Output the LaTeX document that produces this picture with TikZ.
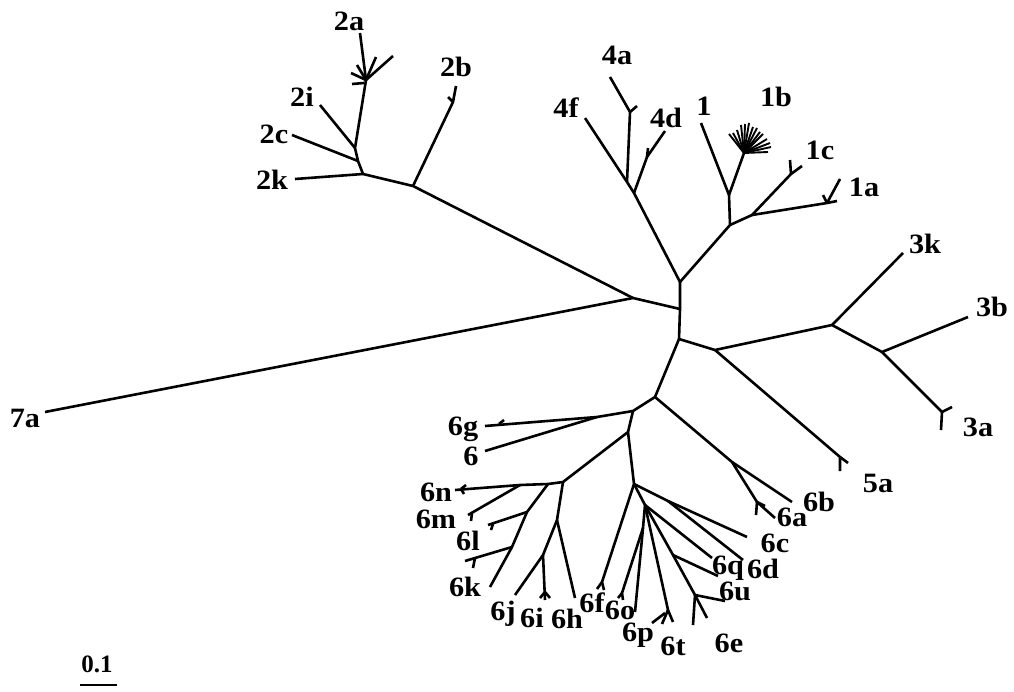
\documentclass[tikz,border=0pt]{standalone}
\usepackage{fontspec}
\setmainfont{Liberation Serif}
\newcommand{\lbl}[1]{\scalebox{1.08}[1]{#1}}
\begin{document}
\begin{tikzpicture}[x=1pt,y=-1pt,
  br/.style={line width=2.6pt, line join=round},
  fan/.style={line width=1.9pt},
  lab/.style={font=\bfseries\fontsize{28}{28}\selectfont, inner sep=0pt}]
\useasboundingbox (0,0) rectangle (1014,691);
% ---------- centre ----------
\coordinate (n1) at (680,282);
\coordinate (n2) at (680,309);
\coordinate (n3) at (679,339);
\coordinate (b7) at (633,298);
\coordinate (t7a) at (45,412);
% ---------- clade 2 ----------
\coordinate (c2b) at (413,186);
\coordinate (f2b) at (453,102);
\coordinate (t2b) at (456,86);
\coordinate (s2b) at (448,97);
\coordinate (c2c) at (363,174);
\coordinate (t2k) at (295,179);
\coordinate (c2d) at (358,161);
\coordinate (t2c) at (292,135);
\coordinate (c2e) at (355,148);
\coordinate (t2i) at (320,105);
\coordinate (c2f) at (366,80);
\coordinate (t2a) at (360,33);
\coordinate (s2a1) at (376,57);
\coordinate (s2a2) at (393,56);
\coordinate (s2a3) at (357,65);
\coordinate (s2a4) at (351,73);
\coordinate (g2a) at (364,83);
\coordinate (s2a5) at (352,84);
% ---------- clade 4 ----------
\coordinate (c4g) at (634,193);
\coordinate (c4h) at (627,182);
\coordinate (t4f) at (585,118);
\coordinate (f4a) at (630,112);
\coordinate (t4a) at (610,77);
\coordinate (s4a) at (637,106);
\coordinate (f4d) at (647,157);
\coordinate (t4d) at (665,131);
\coordinate (s4d) at (648,148);
% ---------- clade 1 ----------
\coordinate (c1i) at (730,225);
\coordinate (c1j) at (729,195);
\coordinate (t1) at (701,123);
\coordinate (f1b) at (744,153);
\coordinate (fb1) at (729,134);
\coordinate (fb2) at (733,133);
\coordinate (fb3) at (737,130);
\coordinate (fb4) at (741,125);
\coordinate (fb5) at (745,124);
\coordinate (fb6) at (749,123);
\coordinate (fb7) at (753,127);
\coordinate (fb8) at (757,128);
\coordinate (fb9) at (760,132);
\coordinate (fb10) at (763,134);
\coordinate (fb11) at (767,139);
\coordinate (fb12) at (770,143);
\coordinate (fb13) at (771,147);
\coordinate (fb14) at (768,152);
\coordinate (c1k) at (752,215);
\coordinate (f1c) at (791,174);
\coordinate (t1c) at (802,166);
\coordinate (s1c) at (790,160);
\coordinate (f1a) at (827,203);
\coordinate (t1a) at (837,201);
\coordinate (u1a) at (840,179);
\coordinate (s1a) at (823,195);
% ---------- clade 3 / 5 ----------
\coordinate (c3m) at (715,350);
\coordinate (c3o) at (832,325);
\coordinate (t3k) at (903,253);
\coordinate (c3p) at (882,352);
\coordinate (t3b) at (968,317);
\coordinate (f3a) at (942,412);
\coordinate (u3a) at (952,407);
\coordinate (s3a) at (941,430);
\coordinate (f5a) at (840,457);
\coordinate (u5a) at (840,471);
\coordinate (s5a) at (848,463);
% ---------- clade 6 ----------
\coordinate (c6s) at (655,397);
\coordinate (c6t) at (732,462);
\coordinate (t6b) at (792,502);
\coordinate (f6a) at (757,502);
\coordinate (t6a) at (775,518);
\coordinate (s6a1) at (765,506);
\coordinate (s6a2) at (756,515);
\coordinate (c6v) at (633,411);
\coordinate (c6w) at (597,417);
\coordinate (t6g) at (485,426);
\coordinate (f6g) at (499,424);
\coordinate (s6g) at (504,420);
\coordinate (t6) at (485,451);
\coordinate (c6x) at (628,432);
\coordinate (c6z) at (563,482);
\coordinate (a61) at (548,484);
\coordinate (a62) at (520,485);
\coordinate (t6n) at (455,490);
\coordinate (f6n) at (461,489);
\coordinate (s6n1) at (466,485);
\coordinate (s6n2) at (464,494);
\coordinate (t6m) at (468,515);
\coordinate (f6m) at (472,513);
\coordinate (s6m) at (471,521);
\coordinate (b61) at (527,512);
\coordinate (t6l) at (488,525);
\coordinate (f6l) at (493,524);
\coordinate (s6l) at (491,530);
\coordinate (b62) at (512,547);
\coordinate (t6kl) at (465,561);
\coordinate (f6kl) at (475,558);
\coordinate (s6kl) at (473,568);
\coordinate (t6k) at (490,587);
\coordinate (c6ab) at (557,520);
\coordinate (c6ac) at (543,555);
\coordinate (t6j) at (515,595);
\coordinate (f6i) at (545,592);
\coordinate (t6i) at (545,600);
\coordinate (s6i1) at (540,598);
\coordinate (s6i2) at (550,598);
\coordinate (t6h) at (575,598);
\coordinate (c6y) at (634,484);
\coordinate (f6f) at (602,582);
\coordinate (s6f1) at (597,589);
\coordinate (s6f2) at (604,590);
\coordinate (c61) at (668,501);
\coordinate (t6c) at (747,537);
\coordinate (t6d) at (743,560);
\coordinate (c6ad) at (645,505);
\coordinate (o61) at (643,528);
\coordinate (t6ol) at (635,612);
\coordinate (t6o) at (622,593);
\coordinate (s6o1) at (618,598);
\coordinate (s6o2) at (623,600);
\coordinate (t6q) at (712,558);
\coordinate (f6t) at (668,610);
\coordinate (t6t) at (673,622);
\coordinate (s6t) at (662,624);
\coordinate (g6p) at (665,613);
\coordinate (t6p) at (652,623);
\coordinate (u61) at (673,555);
\coordinate (t6u) at (718,576);
\coordinate (e61) at (695,595);
\coordinate (t6e1) at (707,618);
\coordinate (t6e2) at (693,625);
\coordinate (t6e3) at (725,601);
% ---------- branches ----------
\draw[br] (n1) -- (n2) -- (n3);
\draw[br] (n2) -- (b7) -- (t7a);
\draw[br] (b7) -- (c2b) -- (c2c) -- (c2d) -- (c2e) -- (c2f) -- (t2a);
\draw[br] (c2b) -- (f2b) -- (t2b);
\draw[br] (f2b) -- (s2b);
\draw[br] (c2c) -- (t2k);
\draw[br] (c2d) -- (t2c);
\draw[br] (c2e) -- (t2i);
\draw[br] (c2f) -- (s2a1);
\draw[br] (c2f) -- (s2a2);
\draw[br] (c2f) -- (s2a3);
\draw[br] (c2f) -- (s2a4);
\draw[br] (g2a) -- (s2a5);
\draw[br] (n1) -- (c4g) -- (c4h) -- (t4f);
\draw[br] (c4h) -- (f4a) -- (t4a);
\draw[br] (f4a) -- (s4a);
\draw[br] (c4g) -- (f4d) -- (t4d);
\draw[br] (f4d) -- (s4d);
\draw[br] (n1) -- (c1i) -- (c1j) -- (t1);
\draw[br] (c1j) -- (f1b);
\draw[fan] (f1b) -- (fb1);
\draw[fan] (f1b) -- (fb2);
\draw[fan] (f1b) -- (fb3);
\draw[fan] (f1b) -- (fb4);
\draw[fan] (f1b) -- (fb5);
\draw[fan] (f1b) -- (fb6);
\draw[fan] (f1b) -- (fb7);
\draw[fan] (f1b) -- (fb8);
\draw[fan] (f1b) -- (fb9);
\draw[fan] (f1b) -- (fb10);
\draw[fan] (f1b) -- (fb11);
\draw[fan] (f1b) -- (fb12);
\draw[fan] (f1b) -- (fb13);
\draw[fan] (f1b) -- (fb14);
\draw[br] (c1i) -- (c1k) -- (f1c) -- (t1c);
\draw[br] (f1c) -- (s1c);
\draw[br] (c1k) -- (f1a) -- (t1a);
\draw[br] (f1a) -- (u1a);
\draw[br] (f1a) -- (s1a);
\draw[br] (n3) -- (c3m) -- (c3o) -- (t3k);
\draw[br] (c3o) -- (c3p) -- (t3b);
\draw[br] (c3p) -- (f3a) -- (u3a);
\draw[br] (f3a) -- (s3a);
\draw[br] (c3m) -- (f5a) -- (u5a);
\draw[br] (f5a) -- (s5a);
\draw[br] (n3) -- (c6s) -- (c6t) -- (t6b);
\draw[br] (c6t) -- (f6a) -- (t6a);
\draw[br] (f6a) -- (s6a1);
\draw[br] (f6a) -- (s6a2);
\draw[br] (c6s) -- (c6v) -- (c6w) -- (t6g);
\draw[br] (f6g) -- (s6g);
\draw[br] (c6w) -- (t6);
\draw[br] (c6v) -- (c6x) -- (c6z) -- (a61) -- (a62) -- (t6n);
\draw[br] (f6n) -- (s6n1);
\draw[br] (f6n) -- (s6n2);
\draw[br] (a62) -- (t6m);
\draw[br] (f6m) -- (s6m);
\draw[br] (a61) -- (b61) -- (b62) -- (t6k);
\draw[br] (b61) -- (t6l);
\draw[br] (f6l) -- (s6l);
\draw[br] (b62) -- (t6kl);
\draw[br] (f6kl) -- (s6kl);
\draw[br] (c6z) -- (c6ab) -- (c6ac) -- (t6j);
\draw[br] (c6ac) -- (t6i);
\draw[br] (f6i) -- (s6i1);
\draw[br] (f6i) -- (s6i2);
\draw[br] (c6ab) -- (t6h);
\draw[br] (c6x) -- (c6y) -- (f6f);
\draw[br] (f6f) -- (s6f1);
\draw[br] (f6f) -- (s6f2);
\draw[br] (c6y) -- (c61) -- (t6c);
\draw[br] (c61) -- (t6d);
\draw[br] (c6y) -- (c6ad) -- (o61) -- (t6ol);
\draw[br] (o61) -- (t6o);
\draw[br] (t6o) -- (s6o1);
\draw[br] (t6o) -- (s6o2);
\draw[br] (c6ad) -- (t6q);
\draw[br] (c6ad) -- (f6t) -- (t6t);
\draw[br] (f6t) -- (s6t);
\draw[br] (g6p) -- (t6p);
\draw[br] (c6ad) -- (u61) -- (e61) -- (t6e1);
\draw[br] (u61) -- (t6u);
\draw[br] (e61) -- (t6e2);
\draw[br] (e61) -- (t6e3);
% ---------- labels ----------
\node[lab] (l2a) at (349,21) {\lbl{2a}};
\node[lab] (l2b) at (456,67) {\lbl{2b}};
\node[lab] (l2i) at (302,97) {\lbl{2i}};
\node[lab] (l2c) at (274,134) {\lbl{2c}};
\node[lab] (l2k) at (272,180) {\lbl{2k}};
\node[lab] (l4a) at (617,55) {\lbl{4a}};
\node[lab] (l4f) at (566,108) {\lbl{4f}};
\node[lab] (l4d) at (666,118) {\lbl{4d}};
\node[lab] (l1) at (704,106) {\lbl{1}};
\node[lab] (l1b) at (776,97) {\lbl{1b}};
\node[lab] (l1c) at (820,150) {\lbl{1c}};
\node[lab] (l1a) at (864,187) {\lbl{1a}};
\node[lab] (l3k) at (925,244) {\lbl{3k}};
\node[lab] (l3b) at (992,307) {\lbl{3b}};
\node[lab] (l3a) at (978,427) {\lbl{3a}};
\node[lab] (l5a) at (878,483) {\lbl{5a}};
\node[lab] (l6b) at (819,502) {\lbl{6b}};
\node[lab] (l6a) at (792,517) {\lbl{6a}};
\node[lab] (l6c) at (775,543) {\lbl{6c}};
\node[lab] (l6q) at (728,568) {\lbl{6q}};
\node[lab] (l6d) at (763,569) {\lbl{6d}};
\node[lab] (l6u) at (735,591) {\lbl{6u}};
\node[lab] (l6e) at (729,643) {\lbl{6e}};
\node[lab] (l6t) at (673,646) {\lbl{6t}};
\node[lab] (l6p) at (638,635) {\lbl{6p}};
\node[lab] (l6o) at (620,610) {\lbl{6o}};
\node[lab] (l6f) at (592,603) {\lbl{6f}};
\node[lab] (l6h) at (567,619) {\lbl{6h}};
\node[lab] (l6i) at (532,618) {\lbl{6i}};
\node[lab] (l6j) at (503,614) {\lbl{6j}};
\node[lab] (l6k) at (465,587) {\lbl{6k}};
\node[lab] (l6l) at (468,541) {\lbl{6l}};
\node[lab] (l6m) at (436,519) {\lbl{6m}};
\node[lab] (l6n) at (436,492) {\lbl{6n}};
\node[lab] (l6) at (471,456) {\lbl{6}};
\node[lab] (l6g) at (463,429) {\lbl{6g}};
\node[lab] (l7a) at (25,418) {\lbl{7a}};
% ---------- scale bar ----------
\node[lab, font=\bfseries\fontsize{25}{25}\selectfont] (lsc) at (97,664) {0.1};
\coordinate (sb1) at (80,685);
\coordinate (sb2) at (117,685);
\draw[br] (sb1) -- (sb2);
\end{tikzpicture}
\end{document}
